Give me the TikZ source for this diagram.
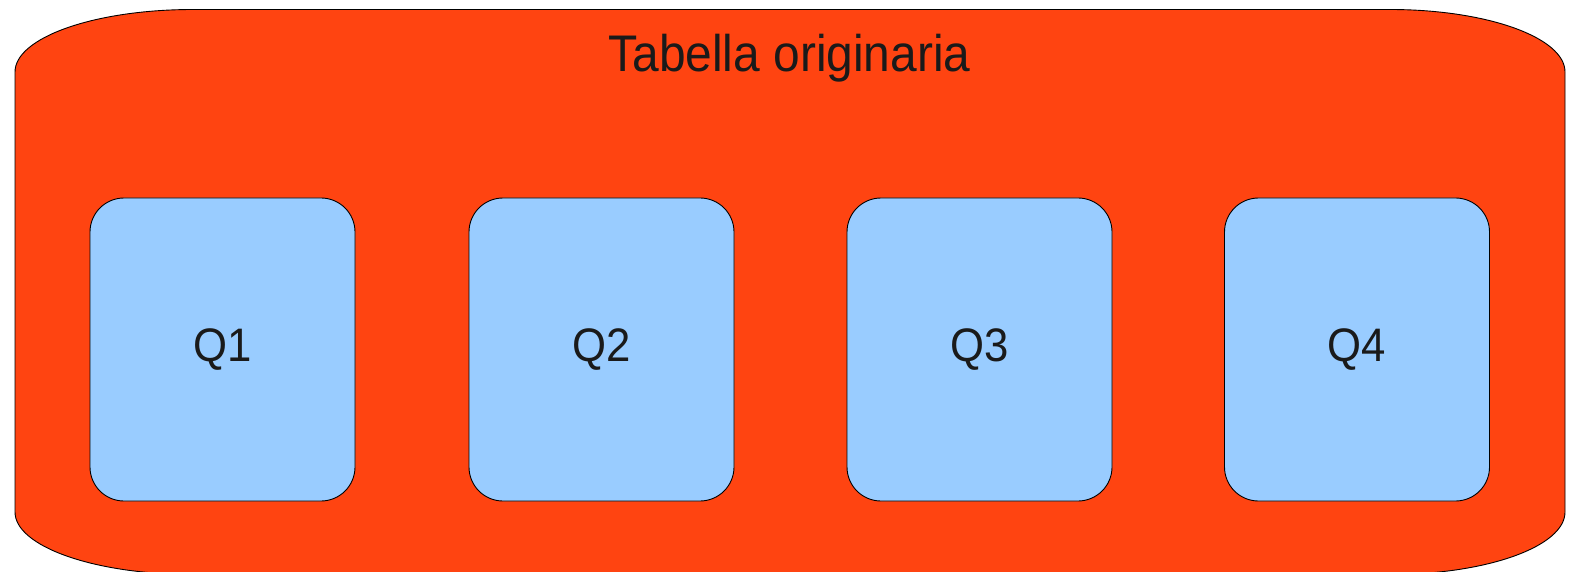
\documentclass[tikz,border=0pt]{standalone}
\usepackage{fontspec}
\setmainfont[FakeStretch=0.93]{Liberation Sans}
\definecolor{tablefill}{HTML}{FF4411}
\definecolor{partfill}{HTML}{99CCFF}
\definecolor{ink}{HTML}{1A1A1A}
\begin{document}
\begin{tikzpicture}[x=1pt,y=1pt,
  outline/.style={draw=black,line width=0.9pt},
  part/.style={outline,fill=partfill,rounded corners=34pt,
    minimum width=265pt,minimum height=303pt,inner sep=0pt,
    text=ink,font=\fontsize{47}{50}\selectfont},
  caption/.style={text=ink,font=\fontsize{51.5}{56}\selectfont,inner sep=0pt}]
  \useasboundingbox (0,0) rectangle (1573,571);
  \clip (0,0) rectangle (1573,571);
  % outer table with elliptical corners
  \path[outline,fill=tablefill]
    (15,59) -- (15,499)
    arc[start angle=180,end angle=90,x radius=178,y radius=62.5]
    -- (1390,561.5)
    arc[start angle=90,end angle=0,x radius=175,y radius=62.5]
    -- (1565,59)
    arc[start angle=0,end angle=-90,x radius=175,y radius=62.5]
    -- (193,-3.5)
    arc[start angle=270,end angle=180,x radius=178,y radius=62.5]
    -- cycle;
  \node[caption,anchor=base] (title) at (789.5,499.3) {Tabella originaria};
  % the four partitions
  \node[part] (q1) at (222.5,221.5) {Q1};
  \node[part] (q2) at (601.5,221.5) {Q2};
  \node[part] (q3) at (979.5,221.5) {Q3};
  \node[part] (q4) at (1357,221.5) {Q4};
\end{tikzpicture}
\end{document}
